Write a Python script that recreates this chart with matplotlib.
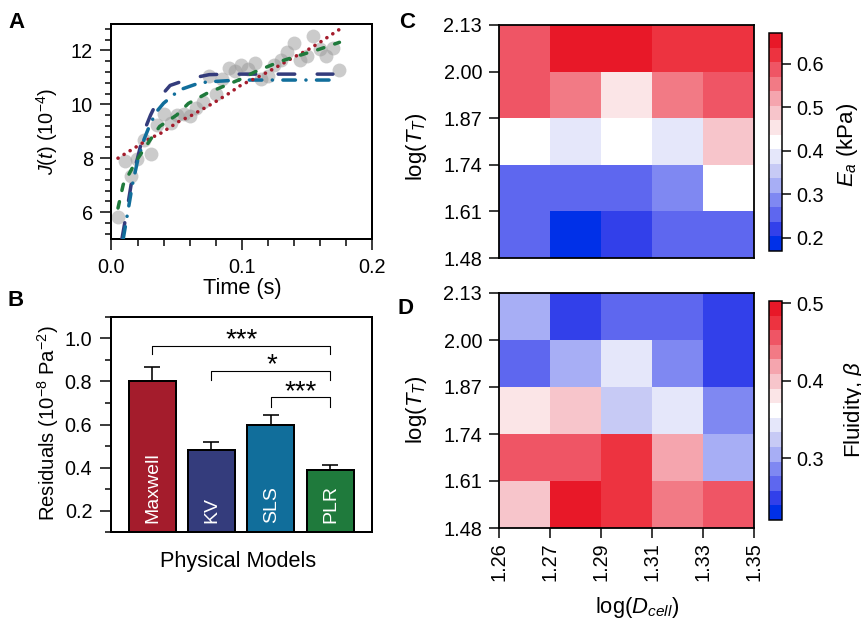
import numpy as np
import matplotlib
matplotlib.use("Agg")
import matplotlib.pyplot as plt
from matplotlib.colors import ListedColormap, BoundaryNorm
from matplotlib.ticker import MultipleLocator

plt.rcParams.update({
    'font.family': ['Liberation Sans', 'DejaVu Sans'],
    'mathtext.fontset': 'custom',
    'mathtext.rm': 'Liberation Sans',
    'mathtext.it': 'Liberation Sans:italic',
    'mathtext.bf': 'Liberation Sans:bold',
    'mathtext.default': 'regular',
    'lines.scale_dashes': False,
    'font.size': 14.3,
})

# ---------- data ----------
scatter_t = [.005,.0102,.0146,.0197,.0248,.030,.035,.040,.0453,.0504,.0555,.0604,.065,.070,.075,.080,.085,.090,
             .095,.0997,.105,.11,.115,.12,.125,.13,.135,.14,.145,.15,.155,.16,.165,.17,.175]
scatter_j = [5.81,7.88,7.32,7.96,8.68,8.16,9.24,9.63,9.3,9.6,9.63,9.57,9.85,10.1,11.05,10.37,10.93,11.35,
             11.25,11.45,11.3,11.53,10.93,11.05,11.47,11.65,11.94,12.27,11.65,11.78,12.52,12.06,11.8,12.1,11.28]
maxwell_t = [.005,.02,.03,.037,.052,.06,.074,.08,.09,.1,.11,.12,.13,.14,.15,.16,.175]
maxwell_j = [8.0,8.45,8.75,8.9,9.37,9.55,9.93,10.1,10.4,10.73,10.95,11.2,11.47,11.75,12.0,12.3,12.78]
plr_t = [.005,.009,.019,.03,.037,.05,.059,.073,.09,.1,.11,.12,.13,.14,.15,.16,.175]
plr_j = [6.15,7.02,7.9,8.7,9.18,9.6,10.03,10.4,10.75,10.95,11.2,11.4,11.6,11.75,11.9,12.05,12.3]
sls_t = [.009,.0125,.016,.02,.025,.03,.035,.04,.046,.052,.068,.08,.098,.175]
sls_j = [5.0,6.0,7.0,7.9,8.7,9.3,9.75,10.04,10.28,10.53,10.8,10.85,10.9,10.9]
kv_t = [.008,.012,.016,.02,.025,.03,.036,.045,.06,.075,.09,.17]
kv_j = [5.0,6.1,7.3,8.0,9.0,9.6,10.2,10.7,10.95,11.1,11.12,11.12]

models = ['Maxwell', 'KV', 'SLS', 'PLR']
residuals = [0.80, 0.482, 0.60, 0.387]
residual_err = [0.067, 0.036, 0.042, 0.023]
bar_colors = ['#A41C2C', '#343C7C', '#116E9B', '#1F7A3C']
brackets = [(0, 3, 0.967, 0.926, '***'), (1, 3, 0.848, 0.807, '*'), (2, 3, 0.726, 0.68, '***')]

cell_labels = ['1.26', '1.27', '1.29', '1.31', '1.33', '1.35']
tt_labels = ['1.48', '1.61', '1.74', '1.87', '2.00', '2.13']
# rows listed top (2.00-2.13) to bottom (1.48-1.61)
Ea = [[.587, .654, .654, .621, .621],
      [.587, .554, .454, .554, .587],
      [.420, .387, .420, .387, .487],
      [.253, .253, .253, .287, .420],
      [.253, .187, .220, .253, .253]]
beta = [[.305, .249, .268, .268, .249],
        [.268, .305, .343, .286, .249],
        [.380, .399, .324, .343, .286],
        [.455, .455, .474, .418, .305],
        [.399, .493, .474, .437, .455]]
level_colors = ['#0030E8', '#3240EA', '#5E67EF', '#7F88F2', '#A7AEF5', '#C7CAF5', '#E5E7FA', '#FFFFFF',
                '#FBE5E7', '#F7C5CB', '#F5A5AE', '#F27A85', '#EF5565', '#ED3340', '#E81828']
ea_range = (0.17, 0.671)
beta_range = (0.2206, 0.503)
ea_ticks = [0.2, 0.3, 0.4, 0.5, 0.6]
beta_ticks = [0.3, 0.4, 0.5]

# ---------- layout helpers ----------
W, H = 862, 620
fig = plt.figure(figsize=(W / 100, H / 100), dpi=100)
PT = 0.72

def axpx(l, t, r, b):
    return fig.add_axes([l / W, 1 - b / H, (r - l) / W, (b - t) / H])

def txt(x, y, s, **kw):
    kw.setdefault('ha', 'center')
    kw.setdefault('va', 'center')
    return fig.text(x / W, 1 - y / H, s, **kw)

def style(ax, lw=2.0):
    for s in ax.spines.values():
        s.set_linewidth(lw * PT)

# ---------- A ----------
axA = axpx(111.5, 24, 372, 239)
axA.scatter(scatter_t, scatter_j, s=100, color='#999999', alpha=0.5, linewidths=0, zorder=2, clip_on=False)
axA.plot(kv_t, kv_j, color=bar_colors[1], lw=3.5 * PT, ls=(0, (16.5 * PT, 22.5 * PT)), dash_capstyle='round', zorder=3)
axA.plot(sls_t, sls_j, color=bar_colors[2], lw=3.5 * PT, ls=(0, (12.5 * PT, 10.5 * PT, 0.1 * PT, 10.5 * PT)),
         dash_capstyle='round', zorder=4)
axA.plot(maxwell_t, maxwell_j, color=bar_colors[0], lw=3.6 * PT, ls=(0, (0.1 * PT, 7 * PT)),
         dash_capstyle='round', zorder=5)
axA.plot(plr_t, plr_j, color=bar_colors[3], lw=3.5 * PT, ls=(0, (6.5 * PT, 11.5 * PT)), dash_capstyle='round', zorder=6)
axA.set_xlim(0, 0.2)
axA.set_ylim(5, 12.98)
axA.xaxis.set_minor_locator(MultipleLocator(0.02))
axA.yaxis.set_major_locator(MultipleLocator(2))
axA.yaxis.set_minor_locator(MultipleLocator(0.4))
axA.set_xticks([0, 0.1, 0.2], ['0.0', '0.1', '0.2'])
axA.tick_params(which='major', length=11 * PT, width=1.5 * PT, pad=5.5, labelsize=14.3)
axA.tick_params(which='minor', length=6.5 * PT, width=1.5 * PT)
style(axA)

# ---------- B ----------
axB = axpx(111, 317, 372, 532)
pos = np.arange(4)
axB.bar(pos, np.array(residuals) - 0.1, bottom=0.1, width=0.79, color=bar_colors, edgecolor='black',
        linewidth=2 * PT, zorder=3)
axB.errorbar(pos, residuals, yerr=[np.zeros(4), residual_err], fmt='none', ecolor='black',
             elinewidth=1.6 * PT, capsize=8 * PT, capthick=1.6 * PT, zorder=2)
for p, m in zip(pos, models):
    axB.text(p + 0.01, 0.144, m, rotation=90, color='white', ha='center', va='bottom', fontsize=14, zorder=4)
for a, b, top, leg, star in brackets:
    axB.plot([a, a, b, b], [leg, top, top, leg], color='black', lw=1.1 * PT, zorder=2)
    axB.text((a + b) / 2 + (0.0 if star == '***' else 0.02), top + 0.026, star, ha='center', va='center',
             fontsize=20, zorder=4)
axB.set_xlim(-0.69, 3.7)
axB.set_ylim(0.1, 1.1)
axB.set_xticks([])
axB.set_yticks([0.2, 0.4, 0.6, 0.8, 1.0], ['0.2', '0.4', '0.6', '0.8', '1.0'])
axB.yaxis.set_minor_locator(MultipleLocator(0.1))
axB.tick_params(which='major', length=11 * PT, width=1.5 * PT, pad=5.5, labelsize=14.3)
axB.tick_params(which='minor', length=6.5 * PT, width=1.5 * PT)
style(axB)

# ---------- C, D ----------
cmap = ListedColormap(level_colors)

def heat(rect, values, vrange, cbrect, cbticks, xlabels):
    ax = axpx(*rect)
    bounds = np.linspace(vrange[0], vrange[1], len(level_colors) + 1)
    norm = BoundaryNorm(bounds, cmap.N)
    mesh = ax.pcolormesh(np.arange(6), np.arange(6), np.array(values)[::-1], cmap=cmap, norm=norm, linewidth=0)
    ax.set_yticks(np.arange(6), tt_labels)
    if xlabels:
        ax.set_xticks(np.arange(6), cell_labels, rotation=90)
    else:
        ax.set_xticks([])
    ax.tick_params(length=10 * PT, width=1.5 * PT, labelsize=14.3)
    ax.tick_params(axis='y', pad=5)
    ax.tick_params(axis='x', pad=3)
    style(ax, 1.8)
    cax = axpx(*cbrect)
    cb = fig.colorbar(mesh, cax=cax, boundaries=bounds, spacing='proportional', drawedges=False)
    cb.set_ticks(cbticks, labels=[f'{t:.1f}' for t in cbticks])
    cb.minorticks_off()
    cax.tick_params(which='both', length=9 * PT, width=1.5 * PT, pad=4, labelsize=14.3)
    cb.outline.set_linewidth(1.5 * PT)
    return ax

axC = heat((499, 25, 754, 258), Ea, ea_range, (769, 33, 782, 251), ea_ticks, False)
axD = heat((499, 293, 754, 528), beta, beta_range, (769, 301, 782, 520), beta_ticks, True)

# ---------- labels ----------
txt(47, 131, r'$\mathit{J}(\mathit{t})$ (10$^{-4}$)', rotation=90, fontsize=14.3)
txt(242, 288, 'Time (s)', fontsize=15.7)
txt(48, 423, r'Residuals (10$^{-8}$ Pa$^{-2}$)', rotation=90, fontsize=14.6)
txt(238, 561, 'Physical Models', fontsize=15.6)
txt(417, 147, r'log($\mathit{T}_{\mathit{T}}$)', rotation=90, fontsize=16)
txt(417, 410, r'log($\mathit{T}_{\mathit{T}}$)', rotation=90, fontsize=16)
txt(637, 607, r'log($\mathit{D}_{\mathit{cell}}$)', fontsize=15.8)
txt(848, 145, r'$\mathit{E}_{\mathit{a}}$ (kPa)', rotation=90, fontsize=16)
txt(855, 409, r'Fluidity, $\mathit{\beta}$', rotation=90, fontsize=16)
for x, y, s in [(17, 23, 'A'), (15.5, 300, 'B'), (407, 23, 'C'), (406, 309, 'D')]:
    txt(x, y, s, fontsize=16, fontweight='bold')

fig.savefig('out.png', dpi=100)
